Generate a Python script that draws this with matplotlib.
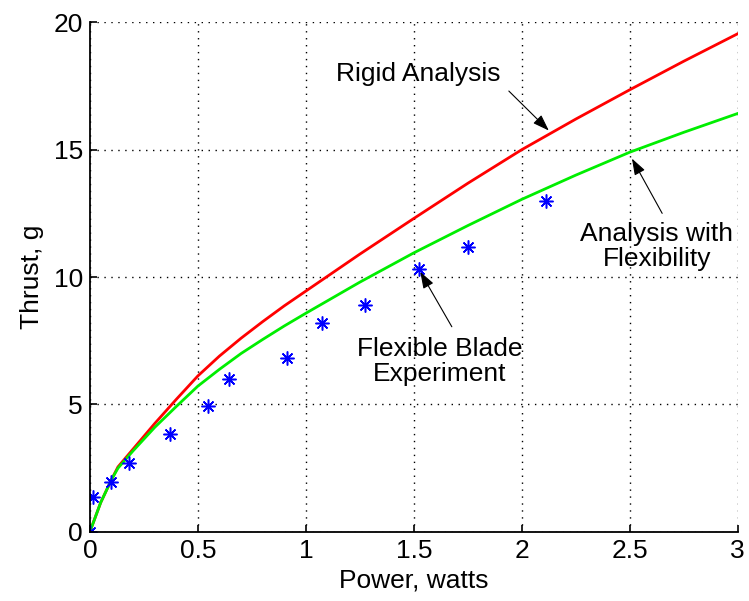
import numpy as np
import matplotlib.pyplot as plt

plt.rcParams['font.family'] = ['Liberation Sans', 'DejaVu Sans']

# analysis curves
power_curve = [0, 0.05, 0.1, 0.13, 0.2, 0.3, 0.4, 0.5, 0.6, 0.7, 0.8, 0.9, 1.0,
               1.25, 1.5, 1.75, 2.0, 2.25, 2.5, 2.75, 3.0]
thrust_rigid = [0, 1.15, 2.05, 2.55, 3.25, 4.25, 5.2, 6.12, 6.9, 7.6, 8.25, 8.87, 9.45,
                10.9, 12.3, 13.68, 15.0, 16.2, 17.35, 18.47, 19.55]
thrust_flex = [0, 1.15, 2.05, 2.5, 3.18, 4.1, 4.92, 5.72, 6.38, 7.0, 7.55, 8.08, 8.58,
               9.8, 10.95, 12.02, 13.05, 14.0, 14.9, 15.68, 16.42]

# experiment
power_exp = [0, 0.015, 0.097, 0.182, 0.37, 0.545, 0.643, 0.913, 1.074, 1.273, 1.525, 1.753, 2.114]
thrust_exp = [0, 1.36, 1.97, 2.72, 3.83, 4.94, 6.01, 6.84, 8.18, 8.89, 10.3, 11.18, 12.99]

fs = 19

fig = plt.figure(figsize=(7.49, 6.01), dpi=100)
ax = fig.add_axes([0.12, 0.115, 0.865, 0.848])

ax.plot(power_curve, thrust_rigid, color='red', lw=2)
ax.plot(power_curve, thrust_flex, color='#00ee00', lw=2)
ax.plot(power_exp, thrust_exp, ls='none', marker=(8, 2, 0), ms=10, mew=1.1, color='blue')
ax.plot(power_exp, thrust_exp, ls='none', marker='o', ms=3, color='blue')

ax.set_xlim(0, 3)
ax.set_ylim(0, 20)
ax.set_xticks([0, 0.5, 1, 1.5, 2, 2.5, 3])
ax.set_xticklabels(['0', '0.5', '1', '1.5', '2', '2.5', '3'])
ax.set_yticks([0, 5, 10, 15, 20])
ax.grid(True, color='black', ls=(0, (1, 4)), lw=1)
ax.tick_params(direction='in', length=5, labelsize=fs, width=1.2, pad=5)
for s in ['top', 'right']:
    ax.spines[s].set_visible(False)
for s in ['left', 'bottom']:
    ax.spines[s].set_linewidth(1.3)

ax.set_xlabel('Power, watts', fontsize=fs, labelpad=4)
ax.set_ylabel('Thrust, g', fontsize=fs, labelpad=7)

arrow = dict(arrowstyle='-|>,head_length=1.0,head_width=0.35', color='black', lw=0.8, shrinkA=0, shrinkB=0)
ax.text(1.52, 17.95, 'Rigid Analysis', fontsize=fs, ha='center', va='center')
ax.annotate('', xy=(2.125, 15.75), xytext=(1.94, 17.3), arrowprops=arrow)
ax.text(2.625, 11.2, 'Analysis with\nFlexibility', fontsize=fs, ha='center', va='center', linespacing=1.05)
ax.annotate('', xy=(2.51, 14.65), xytext=(2.65, 12.5), arrowprops=arrow)
ax.text(1.62, 6.67, 'Flexible Blade\nExperiment', fontsize=fs, ha='center', va='center', linespacing=1.05)
ax.annotate('', xy=(1.53, 10.2), xytext=(1.676, 8.05), arrowprops=arrow)

fig.savefig('out.png', dpi=100)
